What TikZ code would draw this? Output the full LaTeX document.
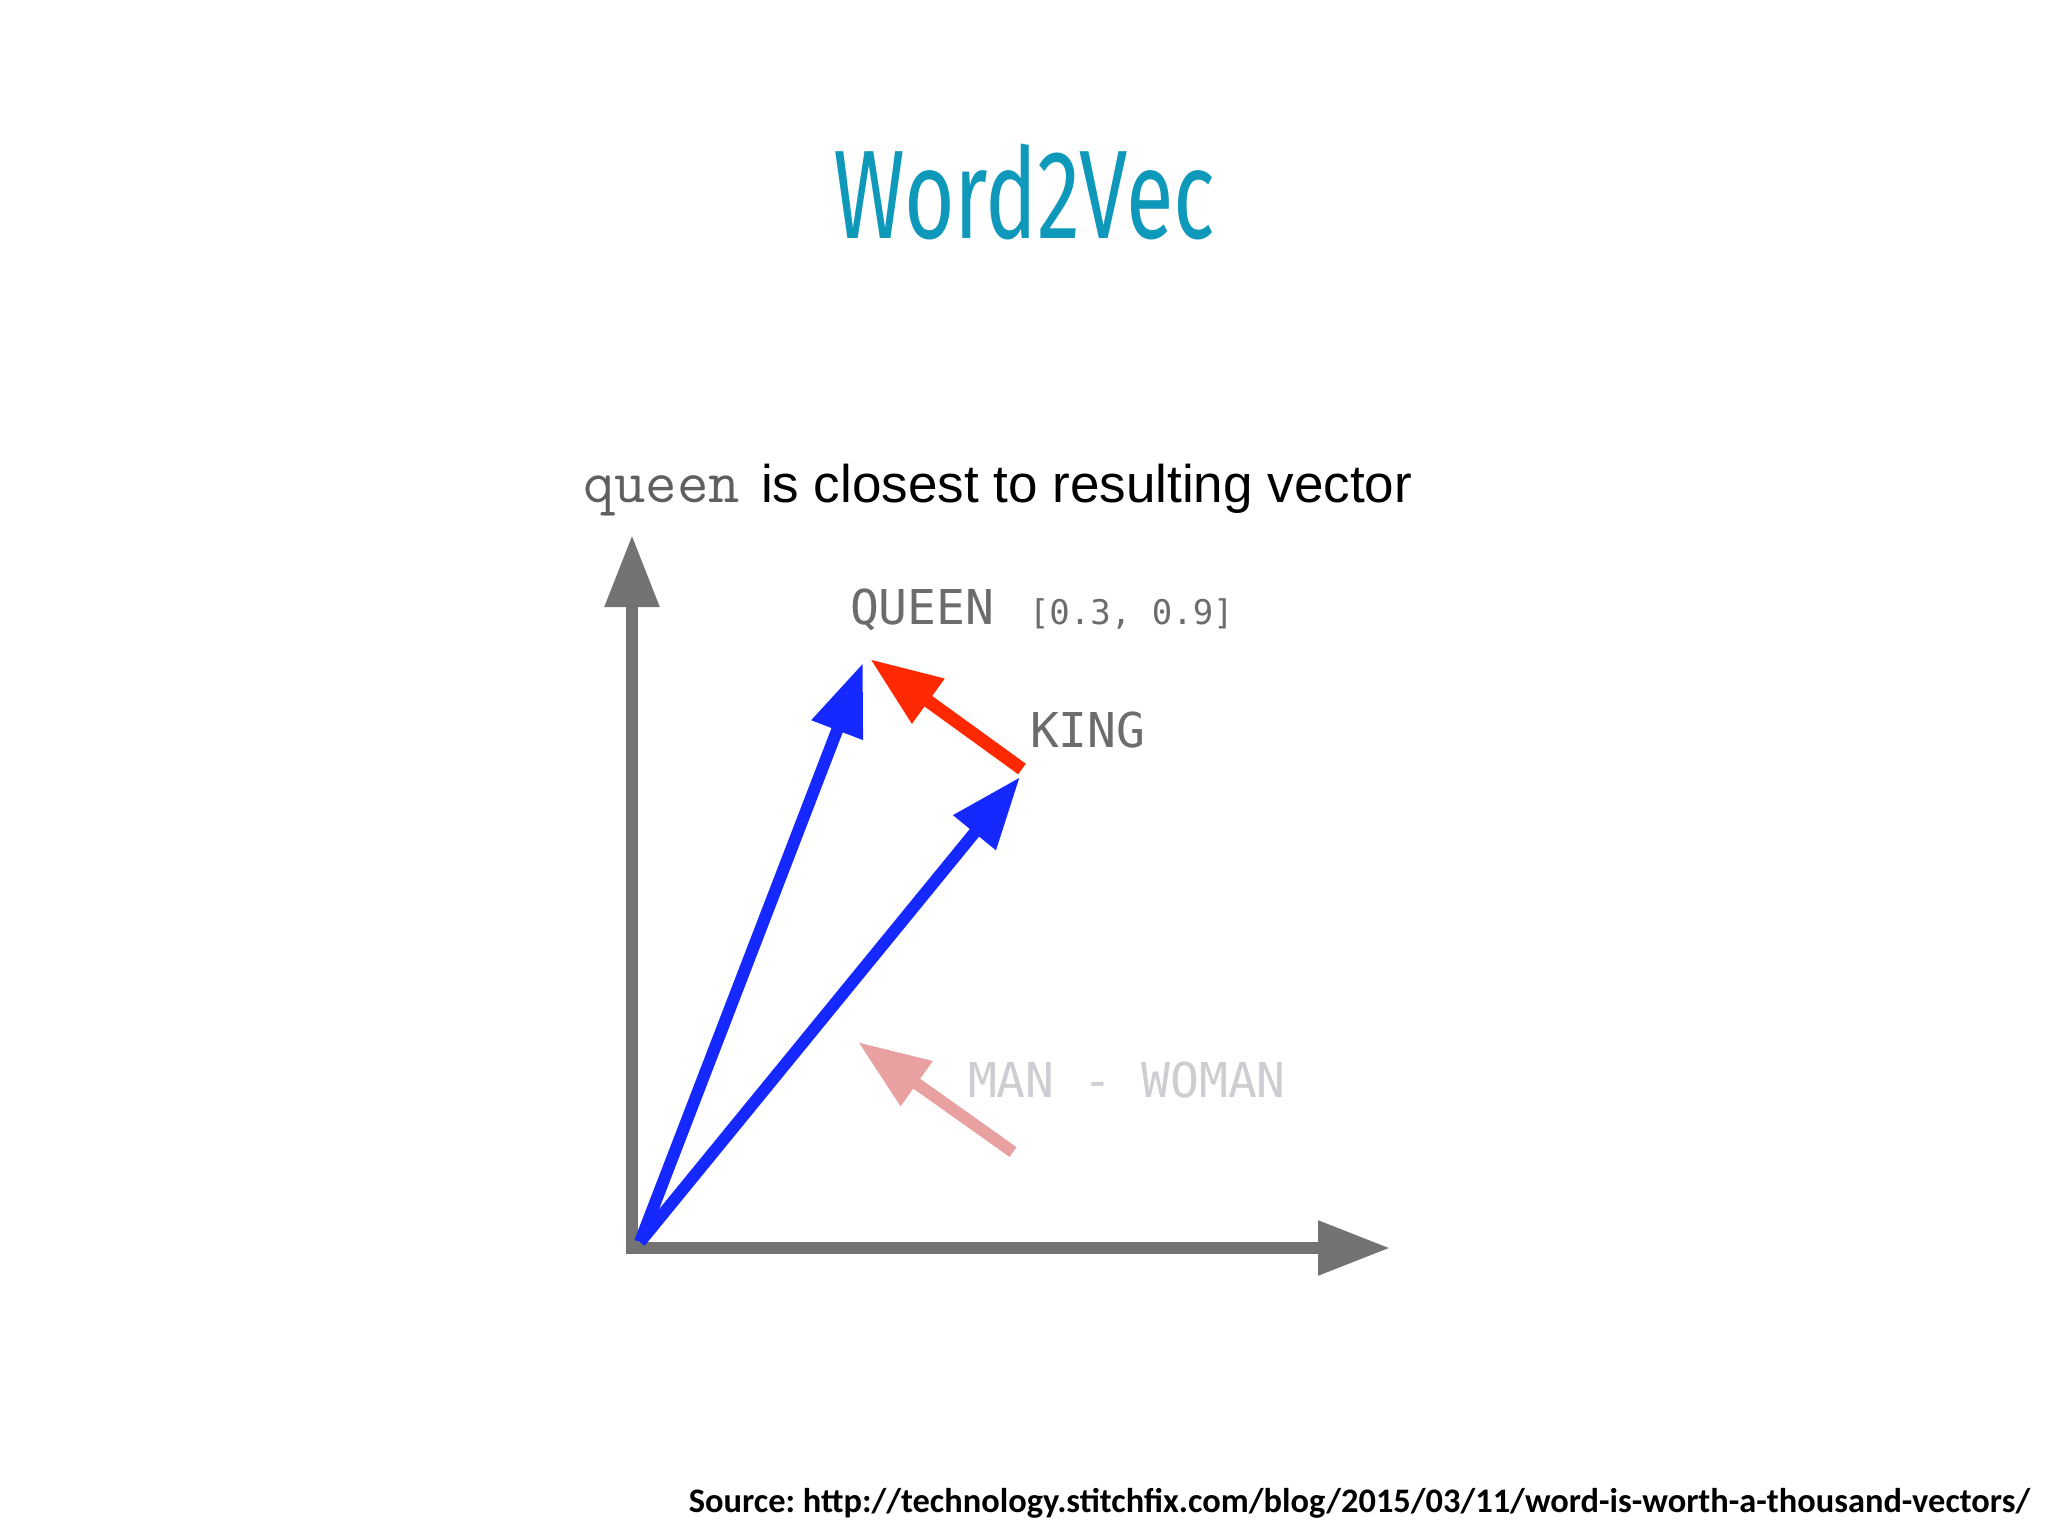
\documentclass[tikz,border=0pt]{standalone}
\usepackage{fontspec}
\setmainfont{Liberation Sans}
\newfontfamily\titlefont{Fira Sans}
\newfontfamily\vecmono{DejaVu Sans Mono}
\newfontfamily\srcfont{Carlito}
\usetikzlibrary{arrows.meta}
\definecolor{titleblue}{RGB}{14,152,186}
\definecolor{axisgray}{RGB}{115,115,115}
\definecolor{vecblue}{RGB}{20,40,255}
\definecolor{vecred}{RGB}{255,40,0}
\definecolor{vecpink}{RGB}{232,160,160}
\definecolor{labelgray}{RGB}{108,108,108}
\definecolor{fadegray}{RGB}{205,205,210}
\definecolor{qgray}{RGB}{95,95,95}
\tikzset{
  txt/.style={inner sep=0pt, outer sep=0pt},
  headtip/.style={-{Triangle[length=72pt,width=52pt]}},
  axisline/.style={draw=axisgray, line width=12pt, line join=miter,
    {Triangle[length=72pt,width=52pt]}-{Triangle[length=72pt,width=52pt]}},
  vecline/.style={line width=12pt, line cap=butt, headtip},
  veclabel/.style={txt, anchor=base west, font=\vecmono\fontsize{48}{48}\selectfont, text=labelgray},
}
\frenchspacing
\begin{document}
\begin{tikzpicture}[x=1pt,y=-1pt]
\useasboundingbox[fill=white] (0,0) rectangle (2048,1536);

% title
\node[txt, anchor=base, text=titleblue] (title) at (1024,238)
  {\scalebox{0.69}[1]{\titlefont\fontsize{126}{126}\selectfont Word2Vec}};

% subtitle
\node[txt, anchor=base west, text=qgray] (qword) at (583,502)
  {\ttfamily\fontsize{61}{61}\selectfont queen};
\node[txt, anchor=base west, text=black] (subtitle) at (761,502)
  {\fontsize{53}{53}\selectfont is closest to resulting vector};

% axes
\coordinate (ytip) at (632,535);
\coordinate (corner) at (632,1248);
\coordinate (xtip) at (1390,1248);
\draw[axisline] (ytip) -- (corner) -- (xtip);

% vectors
\coordinate (O) at (640,1242);
\coordinate (Q) at (863,663);
\coordinate (K) at (1020,777);
\coordinate (Kr) at (1022,769);
\coordinate (Qr) at (870,659);
\coordinate (Mt) at (1013,1152);
\coordinate (Mh) at (858,1042);

\draw[vecline, vecblue] (O) -- (Q);
\draw[vecline, vecblue] (O) -- (K);
\draw[vecline, vecred, line width=13pt] (Kr) -- (Qr);
\draw[vecline, vecpink] (Mt) -- (Mh);

% labels
\node[veclabel] (queenlbl) at (850,624) {QUEEN};
\node[txt, anchor=base west, font=\vecmono\fontsize{34}{34}\selectfont, text=labelgray] (qcoords) at (1029,624) {[0.3, 0.9]};
\node[veclabel] (kinglbl) at (1030,747) {KING};
\node[veclabel, text=fadegray] (mwlbl) at (968,1097) {MAN - WOMAN};

% source
\node[txt, anchor=base east, text=black] (source) at (2030,1512)
  {\srcfont\bfseries\fontsize{34.4}{34.4}\selectfont Source: http://technology.stitchfix.com/blog/2015/03/11/word-is-worth-a-thousand-vectors/};
\end{tikzpicture}
\end{document}
